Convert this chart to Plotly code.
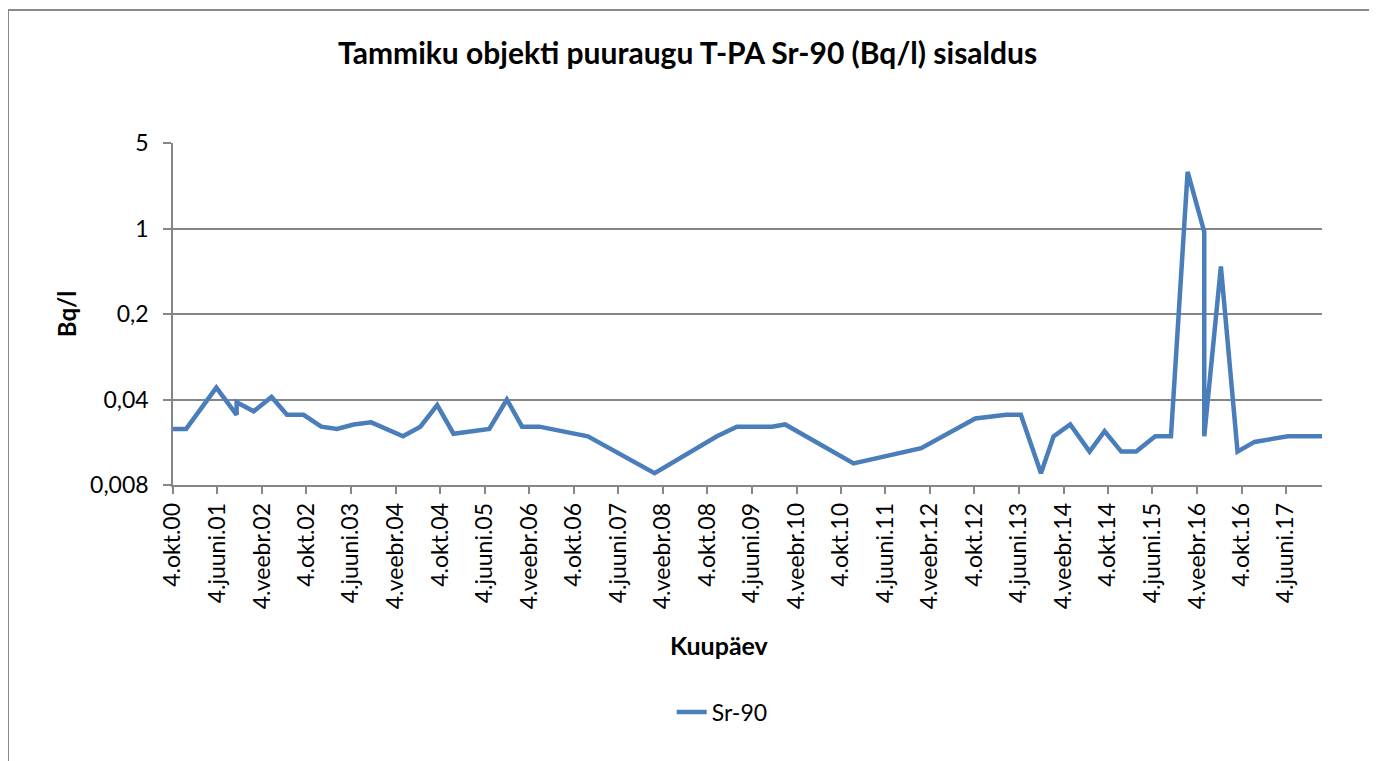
import plotly.graph_objects as go

dates = ["2000-10-04", "2000-12-15", "2001-05-29", "2001-09-17", "2001-09-17", "2001-12-19",
         "2002-03-27", "2002-06-19", "2002-09-18", "2002-12-24", "2003-03-20", "2003-06-19",
         "2003-09-23", "2004-03-15", "2004-06-18", "2004-09-18", "2004-12-16", "2005-06-30",
         "2005-10-04", "2005-12-26", "2006-03-30", "2006-12-21", "2007-12-21", "2008-11-26",
         "2009-03-15", "2009-09-23", "2009-12-04", "2010-12-13", "2011-12-18", "2012-10-09",
         "2013-03-27", "2013-06-15", "2013-10-03", "2013-12-11", "2014-03-12", "2014-06-26",
         "2014-09-16", "2014-12-16", "2015-03-08", "2015-06-20", "2015-09-14", "2015-12-14",
         "2016-03-14", "2016-03-14", "2016-06-13", "2016-09-12", "2016-12-14", "2017-06-14",
         "2017-12-18"]
sr90 = [0.023, 0.023, 0.050, 0.030, 0.038, 0.032, 0.042, 0.030, 0.030, 0.024, 0.023, 0.025,
        0.026, 0.020, 0.024, 0.036, 0.021, 0.023, 0.040, 0.024, 0.024, 0.020, 0.010, 0.020,
        0.024, 0.024, 0.025, 0.012, 0.016, 0.028, 0.030, 0.030, 0.010, 0.020, 0.025, 0.015,
        0.022, 0.015, 0.015, 0.020, 0.020, 2.9, 0.94, 0.020, 0.49, 0.015, 0.018, 0.020,
        0.020]

x_tick_dates = ["2000-10-04", "2001-06-04", "2002-02-04", "2002-10-04", "2003-06-04", "2004-02-04",
                "2004-10-04", "2005-06-04", "2006-02-04", "2006-10-04", "2007-06-04", "2008-02-04",
                "2008-10-04", "2009-06-04", "2010-02-04", "2010-10-04", "2011-06-04", "2012-02-04",
                "2012-10-04", "2013-06-04", "2014-02-04", "2014-10-04", "2015-06-04", "2016-02-04",
                "2016-10-04", "2017-06-04"]
x_tick_labels = ["4.okt.00", "4.juuni.01", "4.veebr.02", "4.okt.02", "4.juuni.03", "4.veebr.04",
                 "4.okt.04", "4.juuni.05", "4.veebr.06", "4.okt.06", "4.juuni.07", "4.veebr.08",
                 "4.okt.08", "4.juuni.09", "4.veebr.10", "4.okt.10", "4.juuni.11", "4.veebr.12",
                 "4.okt.12", "4.juuni.13", "4.veebr.14", "4.okt.14", "4.juuni.15", "4.veebr.16",
                 "4.okt.16", "4.juuni.17"]
y_tick_vals = [0.008, 0.04, 0.2, 1, 5]
y_tick_labels = ["0,008", "0,04", "0,2", "1", "5"]

FONT = "Lato"
GRAY = "#868686"

fig = go.Figure()
fig.add_trace(go.Scatter(
    x=dates, y=sr90, mode="lines", name="Sr-90",
    line=dict(color="#4A7EBB", width=4.5),
))

# page body has an 8px margin, so the figure margins are reduced by 8px on left/top
fig.update_layout(
    width=1377, height=761,
    margin=dict(l=165, r=63, t=135, b=284),
    paper_bgcolor="white", plot_bgcolor="white",
    font=dict(family=FONT, size=23, color="black"),
    showlegend=True,
    legend=dict(orientation="h", x=0.478, xanchor="center", y=-0.664, yanchor="middle",
                font=dict(family=FONT, size=23, color="black")),
    annotations=[
        dict(text="<b>Tammiku objekti puuraugu T-PA Sr-90 (Bq/l) sisaldus</b>",
             xref="paper", yref="paper", x=0.448, y=1.266, xanchor="center", yanchor="middle",
             showarrow=False, font=dict(family=FONT, size=30, color="black")),
        dict(text="<b>Kuupäev</b>", xref="paper", yref="paper", x=0.476, y=-0.468,
             xanchor="center", yanchor="middle", showarrow=False,
             font=dict(family=FONT, size=25, color="black")),
        dict(text="<b>Bq/l</b>", xref="paper", yref="paper", x=-0.093, y=0.5,
             xanchor="center", yanchor="middle", textangle=-90, showarrow=False,
             font=dict(family=FONT, size=24, color="black")),
    ],
    shapes=[
        dict(type="line", xref="paper", yref="paper", x0=-0.1436, x1=1.06, y0=1.389, y1=1.389,
             line=dict(color="#898989", width=2)),
        dict(type="line", xref="paper", yref="paper", x0=-0.1436, x1=-0.1436, y0=1.389, y1=-0.82,
             line=dict(color="#898989", width=2)),
    ],
)

fig.update_xaxes(
    type="date", range=["2000-10-04", "2017-12-18"],
    tickmode="array", tickvals=x_tick_dates, ticktext=x_tick_labels, tickangle=-90,
    ticks="outside", ticklen=7, tickcolor=GRAY, tickwidth=1.5,
    showline=True, linecolor=GRAY, linewidth=1.5, showgrid=False, zeroline=False,
    tickfont=dict(family=FONT, size=23, color="black"),
)
fig.update_yaxes(
    type="log", range=[-2.09691, 0.69897],
    tickmode="array", tickvals=y_tick_vals, ticktext=y_tick_labels,
    ticks="outside", ticklen=8, tickcolor=GRAY, tickwidth=1.5,
    showline=True, linecolor=GRAY, linewidth=1.5,
    showgrid=True, gridcolor=GRAY, gridwidth=1.5, zeroline=False,
    ticklabelstandoff=10,
    tickfont=dict(family=FONT, size=23, color="black"),
)

fig.write_html("out.html")
